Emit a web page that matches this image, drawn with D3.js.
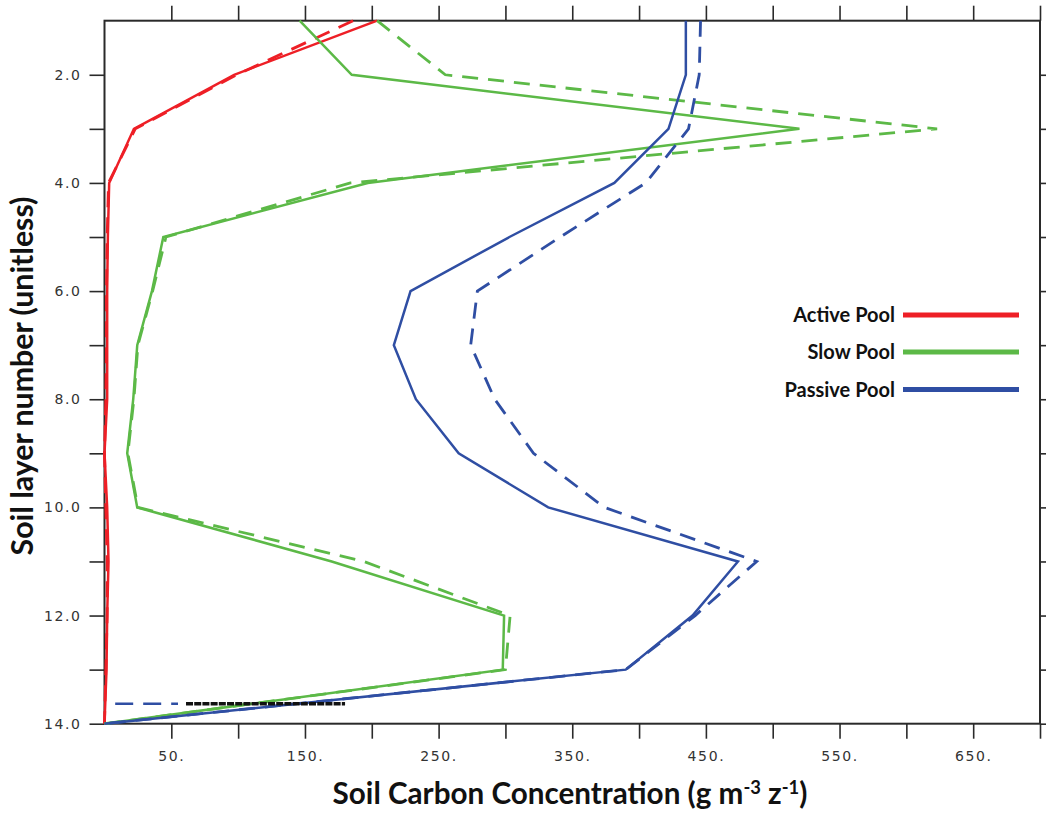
<!DOCTYPE html>
<html>
<head>
<meta charset="utf-8">
<script src="https://cdn.jsdelivr.net/npm/d3@7"></script>
<style>
  html, body { margin: 0; padding: 0; background: #fff; }
  svg { display: block; }
</style>
</head>
<body>
<svg id="chart" width="1046" height="814"></svg>
<script>
// ---------- data ----------
const layers = [1, 2, 3, 4, 5, 6, 7, 8, 9, 10, 11, 12, 13, 14];

const activeSolid   = [204, 97, 22, 3.5, 2.5, 2, 2, 2, 0, 2, 3, 2, 1.5, 0];
const activeDashed  = [186, 99, 23, 3, 2, 1.5, 1.5, 1, 0, 1, 2, 2, 1, 0];

const slowSolid     = [146, 185, 520, 197, 44, 35.5, 24.5, 21.5, 17, 24.5, 170, 299, 298, 0];
const slowDashed    = [204, 255, 623, 184, 46, 36, 25, 22, 17.5, 25, 194, 303.5, 300, 0];

const passiveSolid  = [435, 435, 422, 381.5, 303, 229, 216.5, 233, 265, 332, 474, 440, 390, 0];
const passiveDashed = [446, 445, 437, 405, 341, 279, 274, 292, 321, 374, 488, 442, 390, 0];

// stray marks near the bottom of the reference plot
const strayLayer = 13.63;
const strayBlue  = [8, 55];
const strayBlack = [61, 180];

const xTicks      = [50, 100, 150, 200, 250, 300, 350, 400, 450, 500, 550, 600, 650, 700];
const xTickLabels = ["50.", "150.", "250.", "350.", "450.", "550.", "650."];
const yTicks      = [2, 3, 4, 5, 6, 7, 8, 9, 10, 11, 12, 13, 14];
const yTickLabels = ["2.0", "4.0", "6.0", "8.0", "10.0", "12.0", "14.0"];

const legendNames  = ["Active Pool", "Slow Pool", "Passive Pool"];
const legendColors = ["#ee1f26", "#5cb947", "#2f4ea3"];

// ---------- layout ----------
const svg = d3.select("#chart");
const L = 104.5, R = 1040, T = 20.7, B = 723.7;

const x = d3.scaleLinear().domain([0, 700]).range([L, R]);
const y = d3.scaleLinear().domain([1, 14]).range([T, B]);

const axisColor = "#2a2a2a";
const tickFont = "'DejaVu Sans', sans-serif";

function styleAxis(g) {
  g.select(".domain").remove();
  g.selectAll(".tick line").attr("stroke", axisColor).attr("stroke-width", 1.6);
  g.selectAll(".tick text")
    .attr("fill", "#333")
    .style("font-family", tickFont)
    .style("font-size", "14px")
    .style("letter-spacing", "1.6px");
}

// bottom axis
svg.append("g")
  .attr("transform", `translate(0,${B})`)
  .call(d3.axisBottom(x).tickValues(xTicks).tickSize(15).tickPadding(12)
    .tickFormat(d => xTickLabels.includes(d + ".") ? d + "." : ""))
  .call(styleAxis);

// top axis (ticks only)
svg.append("g")
  .attr("transform", `translate(0,${T})`)
  .call(d3.axisTop(x).tickValues(xTicks).tickSize(15).tickFormat(""))
  .call(styleAxis);

// left axis
svg.append("g")
  .attr("transform", `translate(${L},0)`)
  .call(d3.axisLeft(y).tickValues(yTicks).tickSize(15).tickPadding(8)
    .tickFormat(d => yTickLabels.includes(d.toFixed(1)) ? d.toFixed(1) : ""))
  .call(styleAxis);

// right axis (ticks only)
svg.append("g")
  .attr("transform", `translate(${R},0)`)
  .call(d3.axisRight(y).tickValues(yTicks).tickSize(15).tickFormat(""))
  .call(styleAxis);

// frame
svg.append("rect")
  .attr("x", L).attr("y", T)
  .attr("width", R - L).attr("height", B - T)
  .attr("fill", "none").attr("stroke", axisColor).attr("stroke-width", 2);

// ---------- lines ----------
const line = d3.line()
  .x(d => x(d.v))
  .y(d => y(d.l));

function series(vals) { return vals.map((v, i) => ({ v, l: layers[i] })); }

const seriesDefs = [
  { vals: activeSolid,   color: legendColors[0], dash: null },
  { vals: activeDashed,  color: legendColors[0], dash: "16,10" },
  { vals: slowSolid,     color: legendColors[1], dash: null },
  { vals: slowDashed,    color: legendColors[1], dash: "16,10" },
  { vals: passiveSolid,  color: legendColors[2], dash: null },
  { vals: passiveDashed, color: legendColors[2], dash: "16,10" }
];

seriesDefs.forEach(s => {
  svg.append("path")
    .datum(series(s.vals))
    .attr("d", line)
    .attr("fill", "none")
    .attr("stroke", s.color)
    .attr("stroke-width", s.dash ? 2.8 : 2.5)
    .attr("stroke-linejoin", "miter")
    .attr("stroke-dasharray", s.dash);
});

// stray marks
svg.append("path")
  .datum(strayBlue.map(v => ({ v, l: strayLayer })))
  .attr("d", line)
  .attr("fill", "none").attr("stroke", legendColors[2])
  .attr("stroke-width", 2.5).attr("stroke-dasharray", "18,10");
svg.append("path")
  .datum(strayBlack.map(v => ({ v, l: strayLayer })))
  .attr("d", line)
  .attr("fill", "none").attr("stroke", "#111")
  .attr("stroke-width", 3.5).attr("stroke-dasharray", "7,1.2");

// ---------- legend ----------
const legY = [315, 352, 389.5];
legendNames.forEach((name, i) => {
  svg.append("text")
    .attr("x", 895).attr("y", legY[i] + 7)
    .attr("text-anchor", "end")
    .style("font-family", "Lato, 'Open Sans', sans-serif")
    .style("font-weight", "bold")
    .style("font-size", "20px")
    .attr("fill", "#111")
    .text(name);
  svg.append("line")
    .attr("x1", 903).attr("x2", 1019)
    .attr("y1", legY[i]).attr("y2", legY[i])
    .attr("stroke", legendColors[i]).attr("stroke-width", 5);
});

// ---------- axis titles ----------
const titleFont = "Lato, 'Open Sans', sans-serif";

function fitText(t, target) {
  const len = t.node().getComputedTextLength();
  const fs = parseFloat(t.style("font-size"));
  t.style("font-size", (fs * target / len) + "px");
}

const xt = svg.append("text")
  .attr("x", 570).attr("y", 804)
  .attr("text-anchor", "middle")
  .style("font-family", titleFont)
  .style("font-weight", "bold")
  .style("font-size", "27px")
  .attr("fill", "#111");
// superscripts: raise by 0.55em of small size (=0.341em of base), then come back
xt.append("tspan").text("Soil Carbon Concentration (g m");
xt.append("tspan").attr("dy", "-0.55em").style("font-size", "62%").text("-3");
xt.append("tspan").attr("dy", "0.341em").text(" z");
xt.append("tspan").attr("dy", "-0.55em").style("font-size", "62%").text("-1");
xt.append("tspan").attr("dy", "0.341em").text(")");
fitText(xt, 475);

const yt = svg.append("text")
  .attr("transform", "translate(33,376) rotate(-90)")
  .attr("text-anchor", "middle")
  .style("font-family", titleFont)
  .style("font-weight", "bold")
  .style("font-size", "27px")
  .attr("fill", "#111")
  .text("Soil layer number (unitless)");
fitText(yt, 359);
</script>
</body>
</html>
